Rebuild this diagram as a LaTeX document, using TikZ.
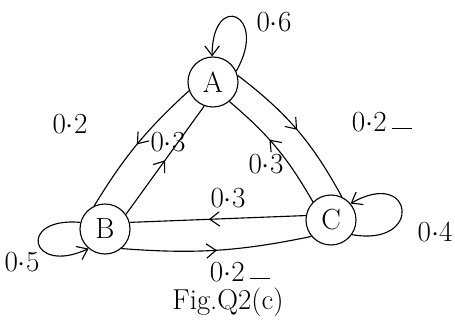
\documentclass[tikz,border=0pt]{standalone}
\usetikzlibrary{arrows.meta, decorations.markings}
\tikzset{
	statenode/.style={
			circle,
			draw=black,
			thick,
			fill=white,
			minimum size=12.5mm,
			inner sep=0pt,
			font=\huge
		},
	problabel/.style={
			font=\huge,
			inner sep=1pt
		},
	midarrow/.style={
			thick,
			postaction={decorate},
			decoration={markings,
				mark=at position #1 with {\arrow{Straight Barb[length=2.4mm, width=3.6mm]}}}
		},
	midarrow/.default=0.5,
	looparrow/.style={
			thick,
			-{Straight Barb[length=2.4mm, width=3.6mm]}
		}
}

\begin{document}
\begin{tikzpicture}
\useasboundingbox (0,0) rectangle (11.375,8);
\node[statenode] (nA) at (5.325,5.95)  { A };
\node[statenode] (nB) at (2.625,2.275) { B };
\node[statenode] (nC) at (8.275,2.5)   { C };

% self loops
\draw[looparrow] (nA.25) to[out=60, in=90, looseness=6] (nA.92);
\draw[looparrow] (nB.165) to[out=175, in=205, looseness=6] (nB.230);
\draw[looparrow] (nC.-35) to[out=-10, in=30, looseness=6] (nC.40);

% A and B
\draw[midarrow] (nA.200) to[bend right=8] (nB.115);
\draw[midarrow] (nB.35) to (nA.250);

% A and C
\draw[midarrow] (nA.15) to[bend left=12] (nC.65);
\draw[midarrow=0.58] (nC.135) to[bend right=10] (nA.310);

% B and C
\draw[midarrow=0.55] (nC.170) to (nB.15);
\draw[midarrow] (nB.-50) to[bend right=8] (nC.220);

\node[problabel] (pAA) at (6.85,7.45) { 0$\cdot$6 };
\node[problabel] (pAB) at (1.75,4.9)  { 0$\cdot$2 };
\node[problabel] (pBA) at (4.2,4.45)  { 0$\cdot$3 };
\node[problabel] (pAC) at (9.55,4.95) { 0$\cdot$2\,\rule[0.2ex]{0.7em}{0.5pt} };
\node[problabel] (pCA) at (6.65,3.9)  { 0$\cdot$3 };
\node[problabel] (pCB) at (5.7,3.05)  { 0$\cdot$3 };
\node[problabel] (pBC) at (6.0,1.2)   { 0$\cdot$2\,\rule[0.2ex]{0.7em}{0.5pt} };
\node[problabel] (pBB) at (0.55,1.45) { 0$\cdot$5 };
\node[problabel, anchor=west] (pCC) at (10.4,2.2) { 0$\cdot$4 };

\node[font=\fontsize{20.5}{24}\selectfont] (caption) at (5.7,0.43) {Fig.Q2(c)};
\end{tikzpicture}
\end{document}
